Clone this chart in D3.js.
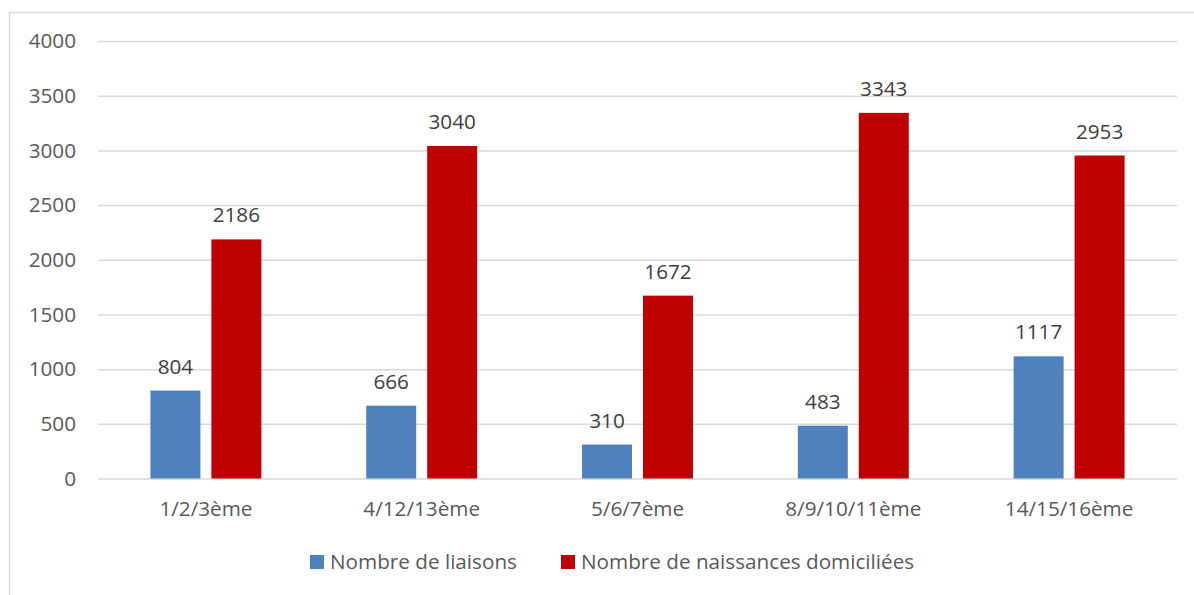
<!DOCTYPE html>
<html>
<head>
<meta charset="utf-8">
<script src="https://cdn.jsdelivr.net/npm/d3@7"></script>
<style>
    body { margin: 0; background: #fff; }
    svg { display: block; font-family: "Open Sans", sans-serif; }
</style>
</head>
<body>
<svg id="chart"></svg>
<script>

// Data
var categories = ['1/2/3ème', '4/12/13ème', '5/6/7ème', '8/9/10/11ème', '14/15/16ème'];
var seriesNames = ['Nombre de liaisons', 'Nombre de naissances domiciliées'];
var liaisons = [804, 666, 310, 483, 1117];
var naissances = [2186, 3040, 1672, 3343, 2953];
var yTicks = [0, 500, 1000, 1500, 2000, 2500, 3000, 3500, 4000];
var colors = ['#4f81bd', '#c00000'];

var width = 1194, height = 595;
var margin = { top: 41, right: 17, bottom: 116.5, left: 98 };
var fontSize = '20.7px';

var svg = d3.select('#chart')
    .attr('width', width)
    .attr('height', height);

// outer chart frame
svg.append('rect')
    .attr('x', 9.5)
    .attr('y', 12.5)
    .attr('width', width + 10)
    .attr('height', height + 10)
    .attr('fill', 'none')
    .attr('stroke', '#d9d9d9')
    .attr('stroke-width', 1.5);

var x0 = d3.scaleBand()
    .domain(categories)
    .range([margin.left, width - margin.right]);

var x1 = d3.scaleBand()
    .domain(seriesNames)
    .range([0, x0.bandwidth()])
    .paddingInner(0.18)
    .paddingOuter(0.86);

var y = d3.scaleLinear()
    .domain([0, 4000])
    .range([height - margin.bottom, margin.top]);

// gridlines + y labels
var yAxis = d3.axisLeft(y)
    .tickValues(yTicks)
    .tickFormat(d3.format('d'))
    .tickSize(-(width - margin.right - margin.left))
    .tickPadding(22);

var gy = svg.append('g')
    .attr('transform', 'translate(' + margin.left + ',0)')
    .call(yAxis);
gy.select('.domain').remove();
gy.selectAll('.tick line')
    .attr('stroke', '#d9d9d9')
    .attr('stroke-width', 1.5);
gy.selectAll('.tick text')
    .attr('fill', '#595959')
    .style('font-size', fontSize)
    .style('font-family', '"Open Sans", sans-serif');

// x labels
var xAxis = d3.axisBottom(x0).tickSize(0).tickPadding(23);
var gx = svg.append('g')
    .attr('transform', 'translate(0,' + y(0) + ')')
    .call(xAxis);
gx.select('.domain').remove();
gx.selectAll('.tick text')
    .attr('fill', '#595959')
    .style('font-size', fontSize)
    .style('font-family', '"Open Sans", sans-serif');

// bars
var rows = categories.map(function (c, i) {
    return [
        { cat: c, name: seriesNames[0], value: liaisons[i], color: colors[0] },
        { cat: c, name: seriesNames[1], value: naissances[i], color: colors[1] }
    ];
});

var groups = svg.selectAll('g.group')
    .data(rows)
    .enter().append('g')
    .attr('class', 'group')
    .attr('transform', function (d) { return 'translate(' + x0(d[0].cat) + ',0)'; });

groups.selectAll('rect')
    .data(function (d) { return d; })
    .enter().append('rect')
    .attr('x', function (d) { return x1(d.name); })
    .attr('y', function (d) { return y(d.value); })
    .attr('width', x1.bandwidth())
    .attr('height', function (d) { return y(0) - y(d.value); })
    .attr('fill', function (d) { return d.color; });

// value labels
groups.selectAll('text')
    .data(function (d) { return d; })
    .enter().append('text')
    .attr('x', function (d) { return x1(d.name) + x1.bandwidth() / 2; })
    .attr('y', function (d) { return y(d.value) - 17; })
    .attr('text-anchor', 'middle')
    .attr('fill', '#404040')
    .style('font-size', fontSize)
    .text(function (d) { return d.value; });

// legend
var legendX = [310, 561];
var legend = svg.selectAll('g.legend')
    .data(seriesNames)
    .enter().append('g')
    .attr('class', 'legend')
    .attr('transform', function (d, i) { return 'translate(' + legendX[i] + ',555)'; });

legend.append('rect')
    .attr('width', 14)
    .attr('height', 14)
    .attr('fill', function (d, i) { return colors[i]; });

legend.append('text')
    .attr('x', 20)
    .attr('y', 14)
    .attr('fill', '#595959')
    .style('font-size', fontSize)
    .text(function (d) { return d; });

</script>
</body>
</html>
